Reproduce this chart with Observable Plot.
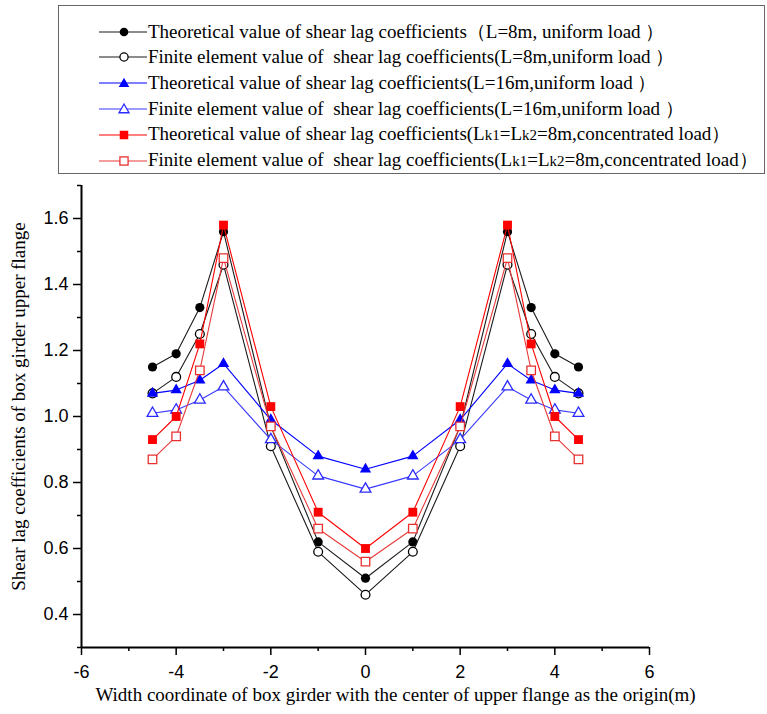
<!DOCTYPE html>
<html>
<head>
<meta charset="utf-8">
<script src="https://cdn.jsdelivr.net/npm/d3@7"></script>
<script src="https://cdn.jsdelivr.net/npm/@observablehq/plot@0.6"></script>
<style>
  html, body { margin: 0; padding: 0; background: #fff; }
  body { width: 767px; height: 714px; position: relative; overflow: hidden; }
  #legend { position: absolute; left: 58px; top: 5px; width: 705px; height: 167px; border: 1.5px solid #666; box-sizing: content-box; }
  .row { position: absolute; left: 40px; height: 26px; line-height: 26px; white-space: pre; font-family: "Liberation Serif", "Times New Roman", serif; font-size: 19px; color: #000; display: flex; align-items: center; }
  .row svg { flex: none; margin-right: 1px; }
  .sub { font-size: 15px; }
  #chart { position: absolute; left: 0; top: 178px; }
</style>
</head>
<body>
<div id="legend"></div>
<div id="chart"></div>
<script>
// ---- data ----
const xCoords = [-4.5, -4, -3.5, -3, -2, -1, 0, 1, 2, 3, 3.5, 4, 4.5];
const theoL8  = [1.15, 1.19, 1.33, 1.56, 0.97, 0.62, 0.51, 0.62, 0.97, 1.56, 1.33, 1.19, 1.15];
const feL8    = [1.07, 1.12, 1.25, 1.46, 0.91, 0.59, 0.46, 0.59, 0.91, 1.46, 1.25, 1.12, 1.07];
const theoL16 = [1.07, 1.08, 1.11, 1.16, 0.99, 0.88, 0.84, 0.88, 0.99, 1.16, 1.11, 1.08, 1.07];
const feL16   = [1.01, 1.02, 1.05, 1.09, 0.93, 0.82, 0.78, 0.82, 0.93, 1.09, 1.05, 1.02, 1.01];
const theoConc = [0.93, 1.00, 1.22, 1.58, 1.03, 0.71, 0.60, 0.71, 1.03, 1.58, 1.22, 1.00, 0.93];
const feConc   = [0.87, 0.94, 1.14, 1.48, 0.97, 0.66, 0.56, 0.66, 0.97, 1.48, 1.14, 0.94, 0.87];

const legendLabels = [
  "Theoretical value of shear lag coefficients（L=8m, uniform load ）",
  "Finite element value of  shear lag coefficients(L=8m,uniform load ）",
  "Theoretical value of shear lag coefficients(L=16m,uniform load ）",
  "Finite element value of  shear lag coefficients(L=16m,uniform load ）",
  "Theoretical value of shear lag coefficients(L<span class=\"sub\">k1</span>=L<span class=\"sub\">k2</span>=8m,concentrated load）",
  "Finite element value of  shear lag coefficients(L<span class=\"sub\">k1</span>=L<span class=\"sub\">k2</span>=8m,concentrated load）"
];
const xTicksMajor = [-6, -4, -2, 0, 2, 4, 6];
const xTicksMinor = [-5, -3, -1, 1, 3, 5];
const yTicksMajor = [0.4, 0.6, 0.8, 1.0, 1.2, 1.4, 1.6];
const yTicksMinor = [0.3, 0.5, 0.7, 0.9, 1.1, 1.3, 1.5, 1.7];
const xTitle = "Width coordinate of box girder with the center of upper flange as the origin(m)";
const yTitle = "Shear lag coefficients of box girder upper flange";

// ---- series styling ----
const seriesDefs = [
  {values: theoL8,  color: "#000000", line: "#1a1a1a", symbol: "circle",   filled: true,  r: 4.6},
  {values: feL8,    color: "#000000", line: "#1a1a1a", symbol: "circle",   filled: false, r: 4.4},
  {values: theoL16, color: "#0000ff", line: "#0000ff", symbol: "triangle", filled: true,  r: 4.2},
  {values: feL16,   color: "#2a2aff", line: "#3a3aff", symbol: "triangle", filled: false, r: 4.0},
  {values: theoConc, color: "#ff0000", line: "#ff0000", symbol: "square",  filled: true,  r: 5.0},
  {values: feConc,   color: "#e83030", line: "#e83a3a", symbol: "square",  filled: false, r: 4.8}
];

const marks = [];
seriesDefs.forEach(s => {
  const data = xCoords.map((x, i) => ({x, y: s.values[i]}));
  marks.push(Plot.line(data, {x: "x", y: "y", stroke: s.line, strokeWidth: 1.1}));
  marks.push(Plot.dot(data, {
    x: "x", y: "y", symbol: s.symbol, r: s.r,
    fill: s.filled ? s.color : "white",
    stroke: s.color, strokeWidth: s.filled ? 0 : 1.3
  }));
});

const chart = Plot.plot({
  width: 767,
  height: 536,
  marginLeft: 81,
  marginRight: 118,
  marginTop: 7,
  marginBottom: 67,
  style: {fontFamily: "'Liberation Sans', Arial, sans-serif", fontSize: "18px", color: "#000", background: "transparent"},
  x: {domain: [-6, 6], label: null},
  y: {domain: [0.3, 1.7], label: null},
  marks: [
    Plot.axisX(xTicksMajor, {tickSize: 8, tickPadding: 10, strokeWidth: 1.5, label: null, fontSize: 18, tickFormat: d => d < 0 ? "-" + Math.abs(d) : String(d)}),
    Plot.axisX(xTicksMinor, {tickSize: 4, strokeWidth: 1.5, label: null, tickFormat: () => ""}),
    Plot.axisY(yTicksMajor, {tickSize: 8, tickPadding: 5, strokeWidth: 1.5, label: null, fontSize: 18, tickFormat: d3.format(".1f")}),
    Plot.axisY(yTicksMinor, {tickSize: 4, strokeWidth: 1.5, label: null, tickFormat: () => ""}),
    Plot.ruleX([-6], {stroke: "#000", strokeWidth: 2}),
    Plot.ruleY([0.3], {stroke: "#000", strokeWidth: 2}),
    ...marks,
    Plot.text([xTitle], {frameAnchor: "bottom", textAnchor: "middle", dx: 30, dy: 53, fontFamily: "'Liberation Serif', 'Times New Roman', serif", fontSize: 19, fill: "#000"}),
    Plot.text([yTitle], {frameAnchor: "left", textAnchor: "middle", rotate: -90, dx: -62.5, dy: -10, fontFamily: "'Liberation Serif', 'Times New Roman', serif", fontSize: 19, fill: "#000"})
  ]
});
document.getElementById("chart").appendChild(chart);

// ---- legend (HTML) ----
const legend = document.getElementById("legend");
const rowCenters = [25.5, 51.3, 77.1, 102.9, 128.7, 154.5];
function swatch(s) {
  const w = 48, h = 20, cx = 25, cy = 10;
  let marker = "";
  const fill = s.filled ? s.color : "white";
  const sw = s.filled ? 0 : 1.3;
  if (s.symbol === "circle") marker = `<circle cx="${cx}" cy="${cy}" r="${s.r - 0.3}" fill="${fill}" stroke="${s.color}" stroke-width="${sw}"/>`;
  else if (s.symbol === "square") { const a = s.r * 0.85; marker = `<rect x="${cx - a}" y="${cy - a}" width="${2 * a}" height="${2 * a}" fill="${fill}" stroke="${s.color}" stroke-width="${sw}"/>`; }
  else { const a = s.r * 1.25; marker = `<path d="M${cx},${cy - a} L${cx + a},${cy + a * 0.75} L${cx - a},${cy + a * 0.75}Z" fill="${fill}" stroke="${s.color}" stroke-width="${sw}"/>`; }
  return `<svg width="${w}" height="${h}"><line x1="0" y1="${cy}" x2="${w}" y2="${cy}" stroke="${s.line}" stroke-width="1.2"/>${marker}</svg>`;
}
seriesDefs.forEach((s, i) => {
  const row = document.createElement("div");
  row.className = "row";
  row.style.top = (rowCenters[i] - 13) + "px";
  row.innerHTML = swatch(s) + `<span>${legendLabels[i]}</span>`;
  legend.appendChild(row);
});
</script>
</body>
</html>
